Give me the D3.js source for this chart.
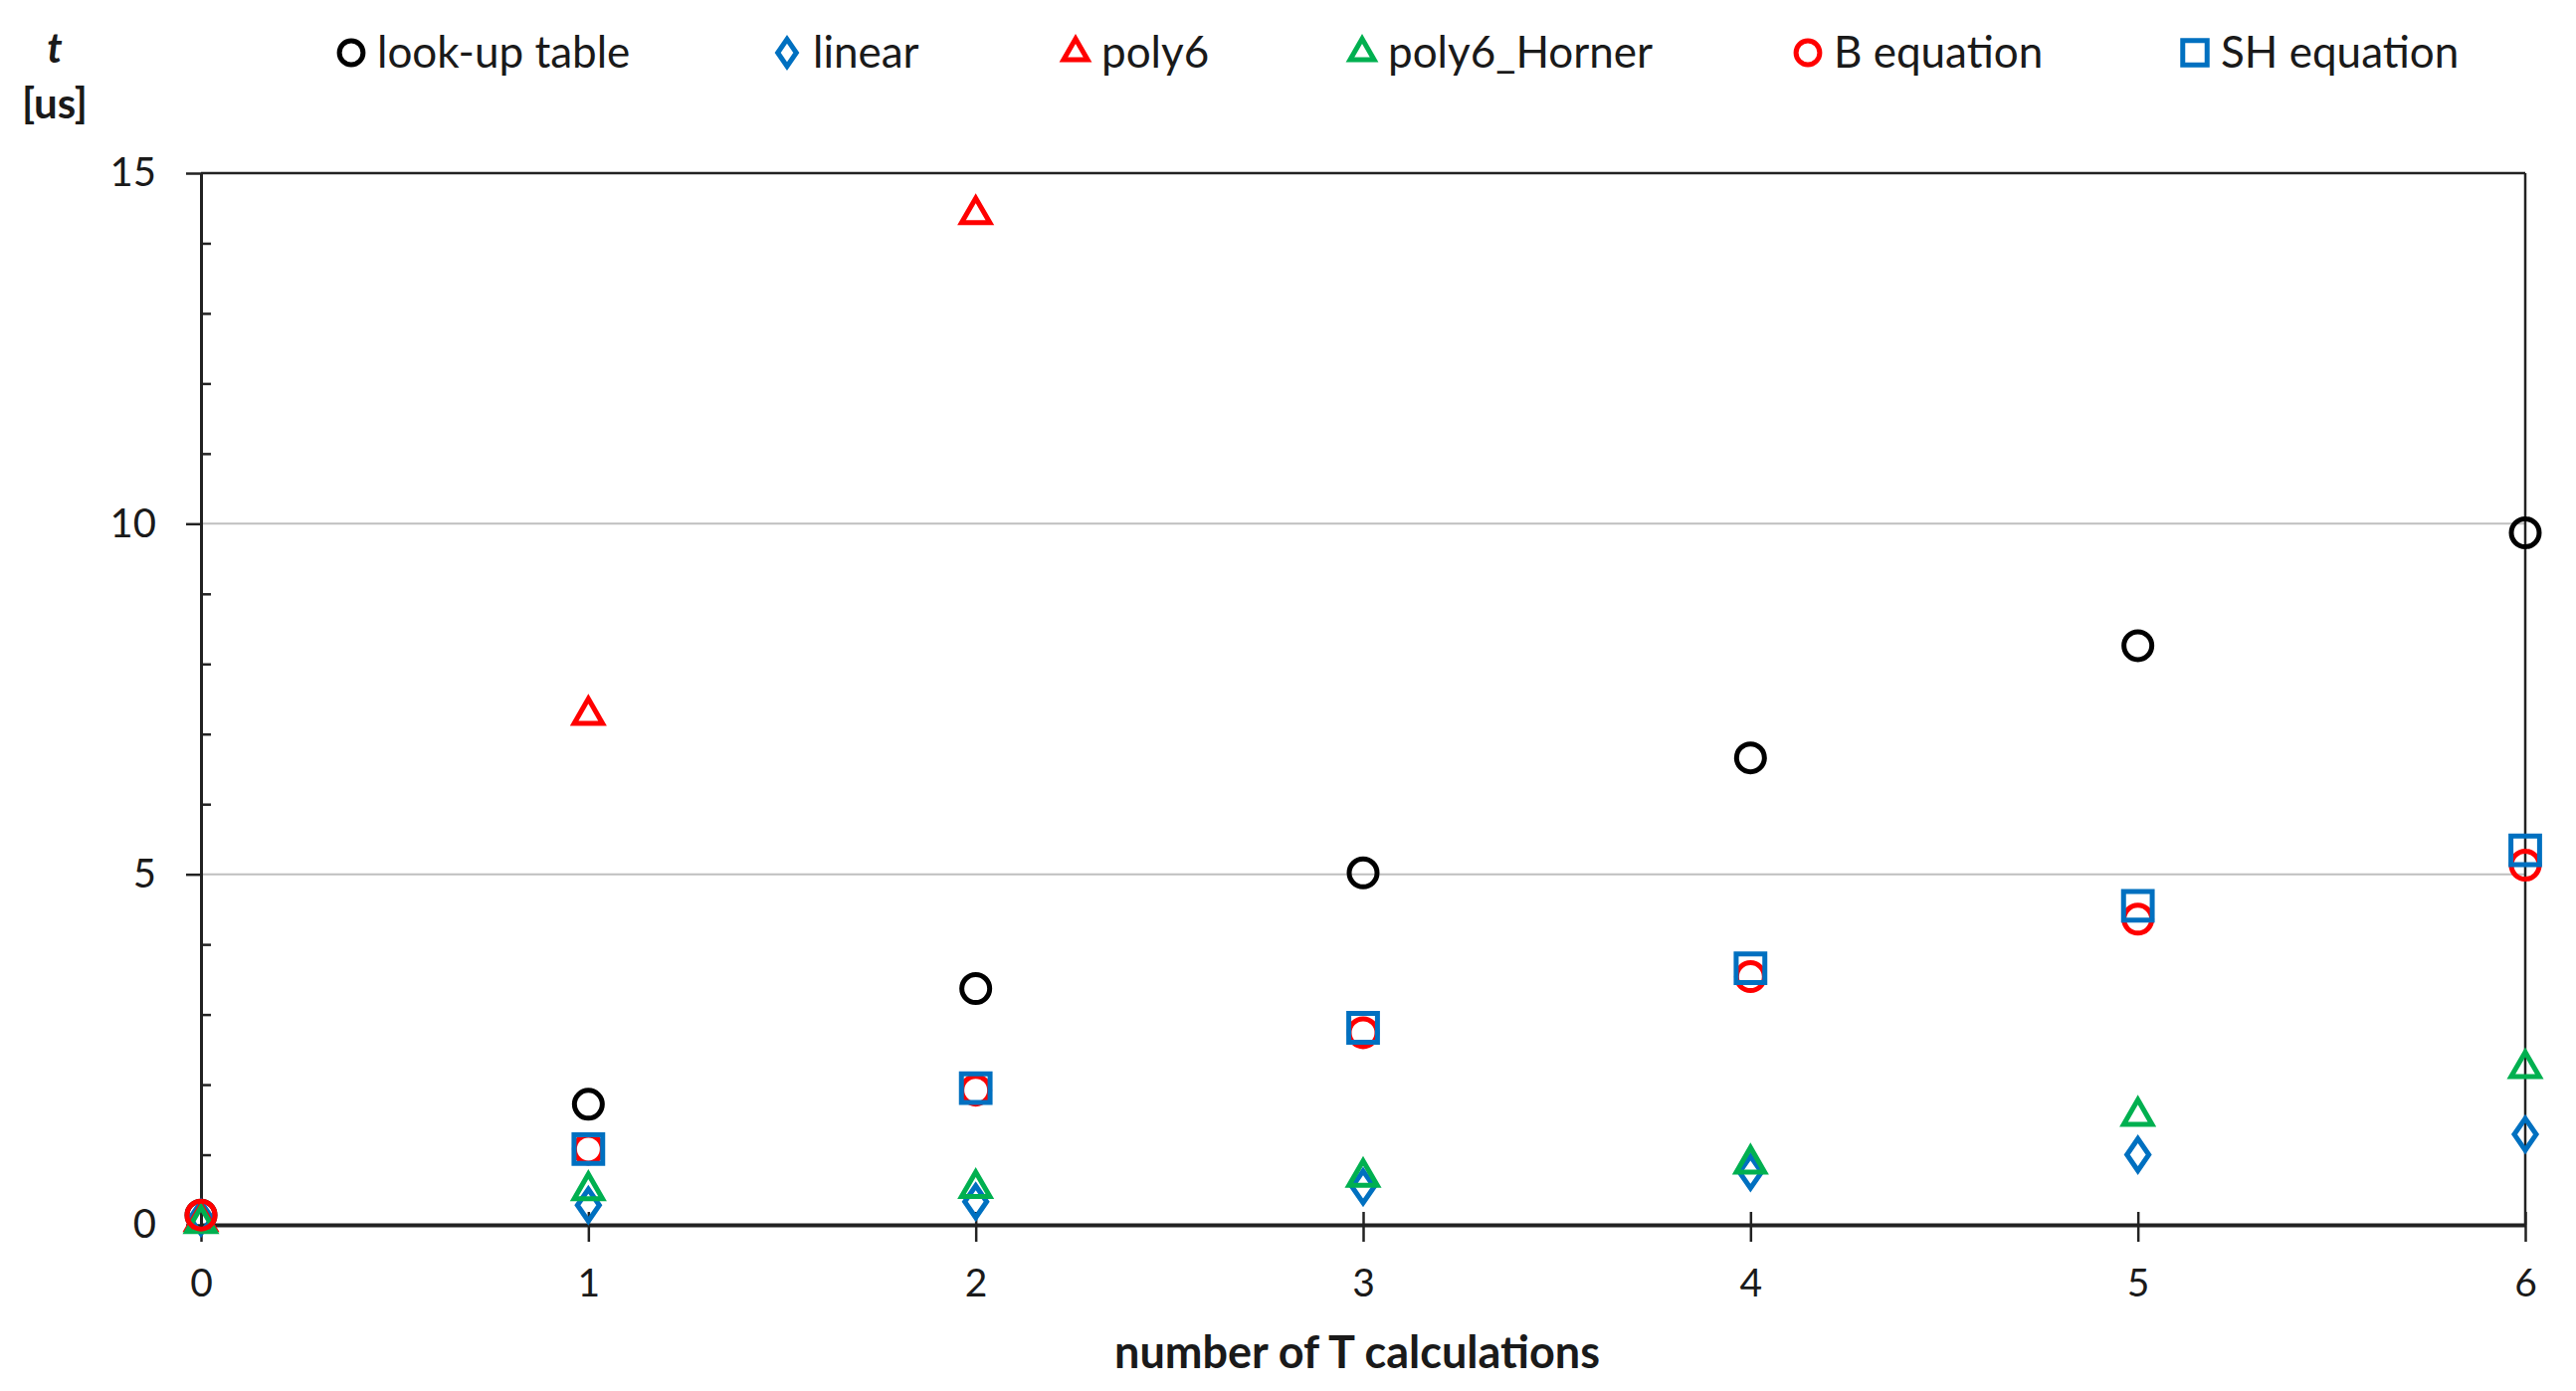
<!DOCTYPE html>
<html>
<head>
<meta charset="utf-8">
<script src="https://cdn.jsdelivr.net/npm/d3@7"></script>
<style>
  body { margin: 0; background: #fff; }
  text { font-family: Lato, "Open Sans", sans-serif; }
</style>
</head>
<body>
<div id="chart"></div>
<script>
// x values: number of T calculations
var calcs = [0, 1, 2, 3, 4, 5, 6];

// times in us (null = no visible point)
var lookupTable = [0.14, 1.72, 3.37, 5.02, 6.66, 8.26, 9.87];
var linear      = [0.10, 0.28, 0.33, 0.54, 0.75, 1.00, 1.29];
var poly6       = [0.05, 7.27, 14.41];
var poly6Horner = [0.02, 0.49, 0.52, 0.68, 0.87, 1.55, 2.23];
var bEquation   = [0.14, 1.08, 1.92, 2.74, 3.54, 4.36, 5.13];
var shEquation  = [null, 1.08, 1.95, 2.81, 3.66, 4.55, 5.34];

var seriesNames = ["look-up table", "linear", "poly6", "poly6_Horner", "B equation", "SH equation"];
var yTicks = [0, 5, 10, 15];

var series = [
    { name: seriesNames[0], values: lookupTable, shape: "circle",   color: "#000000" },
    { name: seriesNames[1], values: linear,      shape: "diamond",  color: "#0070C0" },
    { name: seriesNames[2], values: poly6,       shape: "triangle", color: "#FF0000" },
    { name: seriesNames[3], values: poly6Horner, shape: "triangle", color: "#00B050" },
    { name: seriesNames[4], values: bEquation,   shape: "circle",   color: "#FF0000" },
    { name: seriesNames[5], values: shEquation,  shape: "square",   color: "#0070C0" }
];

const W = 2589, H = 1398;
const plotLeft = 202, plotRight = 2538, plotTop = 174, plotBottom = 1231;

var svg = d3.select("#chart").append("svg")
    .attr("width", W)
    .attr("height", H);

var x = d3.scaleLinear().domain([0, 6]).range([plotLeft, plotRight]);
var y = d3.scaleLinear().domain([0, 15]).range([plotBottom, plotTop]);

// gridlines
svg.append("g")
    .selectAll("line")
    .data(yTicks.filter(function(d) { return d > 0 && d < 15; }))
    .enter().append("line")
    .attr("x1", plotLeft).attr("x2", plotRight)
    .attr("y1", function(d) { return y(d); })
    .attr("y2", function(d) { return y(d); })
    .style("stroke", "#bfbfbf")
    .style("stroke-width", 2);

// top and right frame
svg.append("line")
    .attr("x1", plotLeft).attr("x2", plotRight).attr("y1", plotTop).attr("y2", plotTop)
    .style("stroke", "#222").style("stroke-width", 2.5);
svg.append("line")
    .attr("x1", plotRight).attr("x2", plotRight).attr("y1", plotTop).attr("y2", plotBottom)
    .style("stroke", "#222").style("stroke-width", 2.5);

// minor ticks on y axis, pointing inward
var yMinor = svg.append("g")
    .attr("transform", "translate(" + plotLeft + ",0)")
    .call(d3.axisRight(y).tickValues(d3.range(1, 15).filter(function(d) { return d % 5 != 0; }))
        .tickSize(10).tickFormat(""));
yMinor.select(".domain").remove();
yMinor.selectAll("line").style("stroke", "#222").style("stroke-width", 2.5);

// y axis
var yAxis = svg.append("g")
    .attr("transform", "translate(" + plotLeft + ",0)")
    .call(d3.axisLeft(y).tickValues(yTicks).tickSize(15).tickPadding(30).tickSizeOuter(0));
yAxis.select(".domain").style("stroke", "#222").style("stroke-width", 3);
yAxis.selectAll("line").style("stroke", "#222").style("stroke-width", 2.5);
yAxis.selectAll("text")
    .style("font-family", "Lato, sans-serif")
    .style("font-size", "40px")
    .style("fill", "#1a1a1a");

// x axis
var xAxis = svg.append("g")
    .attr("transform", "translate(0," + plotBottom + ")")
    .call(d3.axisBottom(x).tickValues(calcs).tickFormat(d3.format("d"))
        .tickSize(17).tickPadding(27).tickSizeOuter(0));
xAxis.select(".domain").style("stroke", "#222").style("stroke-width", 4);
xAxis.selectAll(".tick line")
    .attr("y1", -13)
    .style("stroke", "#222").style("stroke-width", 2.5);
xAxis.selectAll("text")
    .style("font-family", "Lato, sans-serif")
    .style("font-size", "39px")
    .style("fill", "#1a1a1a");

// axis titles
svg.append("text")
    .attr("x", 1364).attr("y", 1375)
    .attr("text-anchor", "middle")
    .style("font-size", "45px")
    .style("font-weight", "bold")
    .style("fill", "#1a1a1a")
    .text("number of T calculations");

svg.append("text")
    .attr("x", 55).attr("y", 63)
    .attr("text-anchor", "middle")
    .style("font-size", "42px")
    .style("font-weight", "bold")
    .style("font-style", "italic")
    .style("fill", "#1a1a1a")
    .text("t");

svg.append("text")
    .attr("x", 55).attr("y", 119)
    .attr("text-anchor", "middle")
    .style("font-size", "42px")
    .style("font-weight", "bold")
    .style("fill", "#1a1a1a")
    .text("[us]");

function symbolPath(shape, scale) {
    var s = scale || 1;
    if (shape == "diamond") {
        var hw = 11 * s, hh = 16 * s;
        return "M0," + (-hh) + "L" + hw + ",0L0," + hh + "L" + (-hw) + ",0Z";
    }
    if (shape == "triangle") return d3.symbol().type(d3.symbolTriangle).size(350 * s * s)();
    if (shape == "square") return d3.symbol().type(d3.symbolSquare).size(830 * s * s)();
    return null;
}

function drawMarker(g, shape, color, cx, cy, scale) {
    if (shape == "circle") {
        g.append("circle")
            .attr("cx", cx).attr("cy", cy)
            .attr("r", 14 * (scale || 1))
            .style("fill", "none")
            .style("stroke", color)
            .style("stroke-width", 5);
    } else {
        g.append("path")
            .attr("d", symbolPath(shape, scale))
            .attr("transform", "translate(" + cx + "," + cy + ")")
            .style("fill", "none")
            .style("stroke", color)
            .style("stroke-width", 5)
            .style("stroke-linejoin", "miter");
    }
}

// points
series.forEach(function(s) {
    var g = svg.append("g").attr("class", "series");
    s.values.forEach(function(v, i) {
        if (v == null) return;
        drawMarker(g, s.shape, s.color, x(calcs[i]), y(v), 1);
    });
});

// legend
var legendX = [353, 791, 1081, 1369, 1817, 2206];
var legend = svg.append("g");
series.forEach(function(s, i) {
    drawMarker(legend, s.shape, s.color, legendX[i], 53, 0.85);
    legend.append("text")
        .attr("x", legendX[i] + 26)
        .attr("y", 53)
        .attr("dy", "0.35em")
        .style("font-size", "44px")
        .style("fill", "#1a1a1a")
        .text(s.name);
});
</script>
</body>
</html>
